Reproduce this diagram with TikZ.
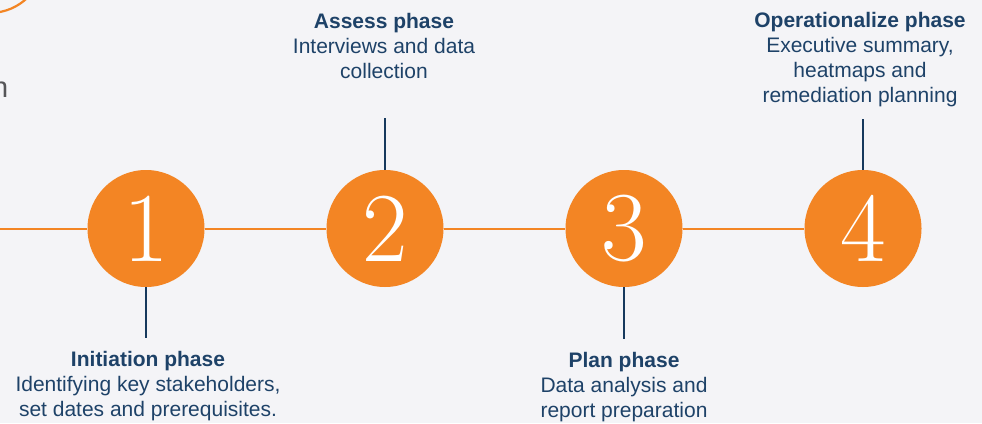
\documentclass[tikz,border=0pt]{standalone}
\usepackage{fontspec}
\setsansfont{Liberation Sans}
\definecolor{bgc}{RGB}{244,244,247}
\definecolor{orangec}{RGB}{243,133,36}
\definecolor{navyc}{RGB}{22,57,93}
\definecolor{textc}{RGB}{30,66,104}
\definecolor{grayc}{RGB}{85,85,88}
\tikzset{
  stepcircle/.style={circle, fill=orangec, draw=none, minimum size=117pt, inner sep=0pt,
    text=white, font=\fontsize{99}{99}\selectfont},
  orangeline/.style={draw=orangec, line width=2pt},
  navyline/.style={draw=navyc, line width=2pt},
  phasetext/.style={anchor=north, inner sep=0pt, align=center, text=textc,
    font=\sffamily\fontsize{21}{25}\selectfont},
}
\begin{document}
\begin{tikzpicture}[x=1pt,y=-1pt]
\fill[bgc] (0,0) rectangle (982,423);
\clip (0,0) rectangle (982,423);

% partial elements at the top left
\draw[orangec, line width=2.2pt] (-10,-40.9) circle (53.8pt);
\node[anchor=base west, inner sep=0pt, text=grayc, font=\sffamily\fontsize{29}{29}\selectfont] (ncut) at (-8.2,97) {n};

% circles
\node[stepcircle] (c1) at (146,228.5) {1};
\node[stepcircle] (c2) at (385,228.5) {2};
\node[stepcircle] (c3) at (624,228.5) {3};
\node[stepcircle] (c4) at (863,228.5) {4};

% timeline
\coordinate (lstart) at (-5,228.5);
\draw[orangeline] (lstart) -- (c1.west);
\draw[orangeline] (c1.east) -- (c2.west);
\draw[orangeline] (c2.east) -- (c3.west);
\draw[orangeline] (c3.east) -- (c4.west);

% ticks
\coordinate (t1) at (146,338);
\coordinate (t2) at (385,118);
\coordinate (t3) at (624,339);
\coordinate (t4) at (863,119);
\draw[navyline] (c1.south) -- (t1);
\draw[navyline] (t2) -- (c2.north);
\draw[navyline] (c3.south) -- (t3);
\draw[navyline] (t4) -- (c4.north);

% texts
\node[phasetext] (p2) at (384,13) {\textbf{Assess phase}\\Interviews and data\\collection};
\node[phasetext] (p4) at (860,12) {\textbf{Operationalize phase}\\Executive summary,\\heatmaps and\\remediation planning};
\node[phasetext] (p1) at (148,351) {\textbf{Initiation phase}\\Identifying key stakeholders,\\set dates and prerequisites.};
\node[phasetext] (p3) at (624,352) {\textbf{Plan phase}\\Data analysis and\\report preparation};
\end{tikzpicture}
\end{document}
